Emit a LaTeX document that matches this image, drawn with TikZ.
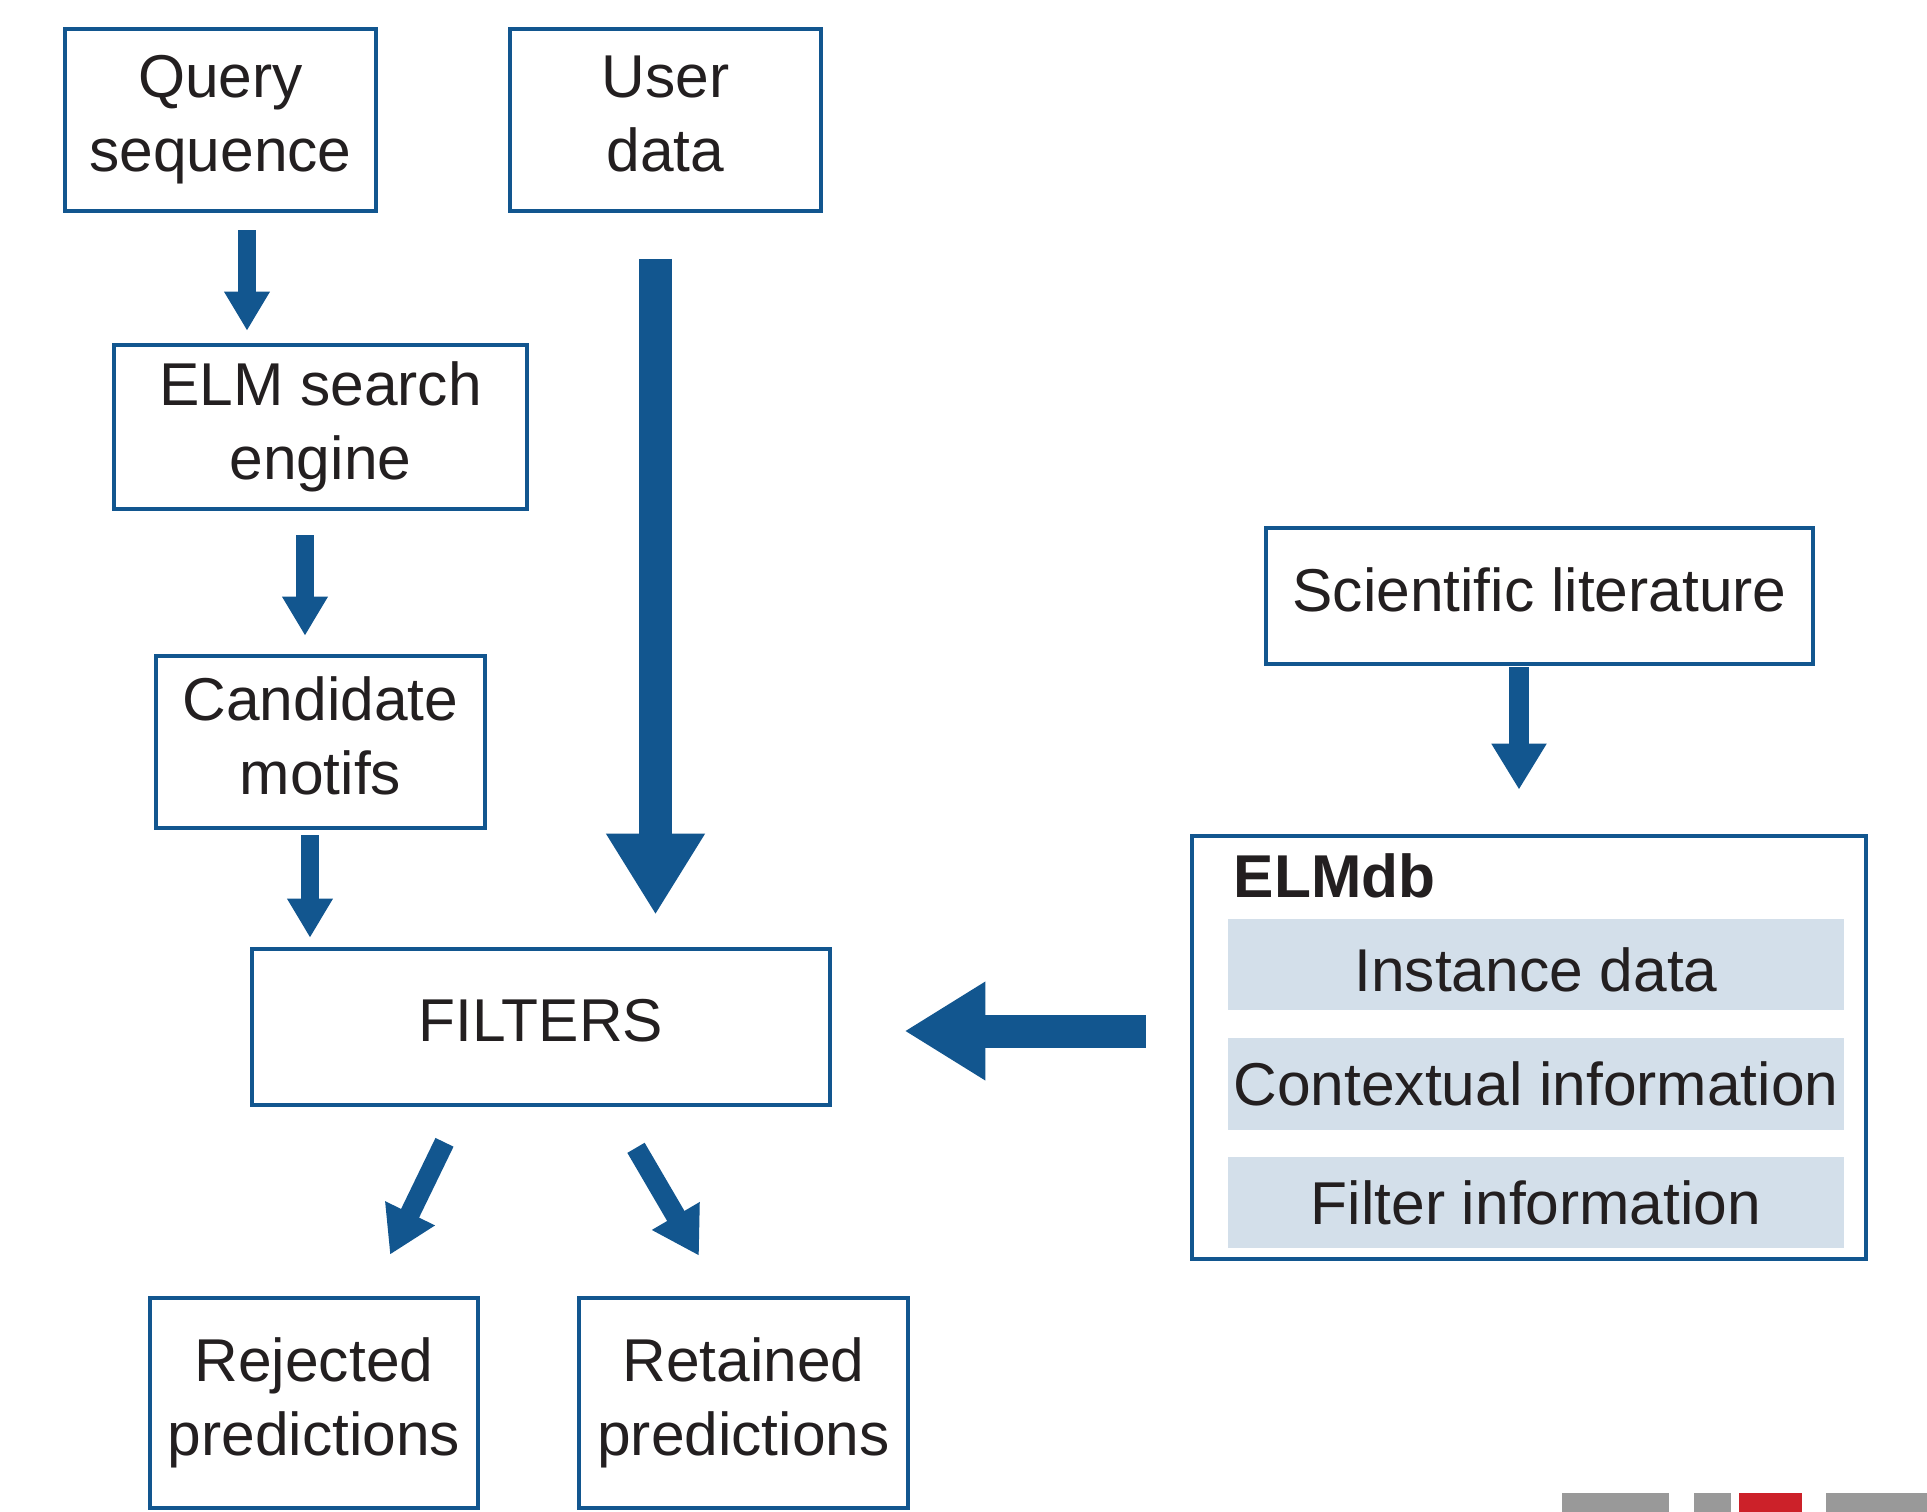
\documentclass[tikz,border=0pt]{standalone}
\usepackage{fontspec}
\setmainfont{Liberation Sans}
\usetikzlibrary{arrows.meta,calc}
\definecolor{elmblue}{RGB}{18,86,143}
\definecolor{barblue}{RGB}{211,223,234}
\definecolor{inktext}{RGB}{35,31,32}
\definecolor{footgray}{RGB}{153,153,153}
\definecolor{footred}{RGB}{204,33,41}
\begin{document}
\begin{tikzpicture}[x=0.01cm, y=-0.01cm, line join=miter,
    font=\fontsize{17.2}{21}\selectfont, text=inktext,
    box/.style 2 args={draw=elmblue, line width=0.045cm, align=center, inner sep=0pt,
        text depth=0.13cm, minimum width=#1, minimum height=#2},
    bar/.style={fill=barblue, inner sep=0pt, minimum width=6.16cm, minimum height=0.91cm},
    flow/.style={draw=elmblue, line width=0.17cm, -{Triangle[width=0.43cm,length=0.39cm]}},
    midflow/.style={draw=elmblue, line width=0.20cm, -{Triangle[width=0.52cm,length=0.46cm]}},
    bigflow/.style={draw=elmblue, line width=0.33cm, -{Triangle[width=0.93cm,length=0.81cm]}}]
    \useasboundingbox (0,0) rectangle (1927,1512);
    % input boxes
    \node[box={3.11cm}{1.82cm}] (query) at (220.5,120) {Query\\sequence};
    \node[box={3.11cm}{1.82cm}] (user) at (665.5,120) {User\\data};
    \node[box={4.13cm}{1.64cm}] (elm) at (320.5,427) {ELM search\\engine};
    \node[box={3.29cm}{1.72cm}] (cand) at (320.5,742) {Candidate\\motifs};
    \node[box={5.78cm}{1.56cm}] (filters) at (541,1027) {FILTERS};
    \node[box={3.28cm}{2.10cm}] (rej) at (314,1403) {Rejected\\predictions};
    \node[box={3.29cm}{2.10cm}] (ret) at (743.5,1403) {Retained\\predictions};
    % database side
    \node[box={5.47cm}{1.36cm}] (lit) at (1539.5,596) {Scientific literature};
    \node[box={6.74cm}{4.23cm}] (db) at (1529,1047.5) {};
    \node[anchor=west, inner sep=0pt, font=\fontsize{17.2}{21}\selectfont\bfseries] (dbname) at (1233,876) {ELMdb};
    \node[bar, text height=0.55cm] (inst) at (1536,964.5) {Instance data};
    \node[bar] (ctx) at (1536,1084) {Contextual information};
    \node[bar] (filt) at (1536,1202.5) {Filter information};
    % arrows
    \draw[flow] ($(query.south)+(26.5,17)$) -- ($(elm.north)+(-73.5,-12)$);
    \draw[flow] ($(elm.south)+(-15.5,24)$) -- ($(cand.north)+(-15.5,-18)$);
    \draw[flow] ($(cand.south)+(-10.5,5)$) -- ($(filters.north)+(-231,-9)$);
    \draw[bigflow] ($(user.south)+(-10,45.5)$) -- ($(filters.north)+(114.5,-32)$);
    \draw[midflow] ($(lit.south)+(-20.5,1)$) -- ($(db.north)+(-10,-44)$);
    \draw[bigflow] ($(db.west)+(-44,-16.5)$) -- ($(filters.east)+(72,4)$);
    \draw[midflow] ($(filters.south)+(-96.5,35)$) -- ($(rej.north)+(76,-41)$);
    \draw[midflow] ($(filters.south)+(95,40.5)$) -- ($(ret.north)+(-44.5,-40)$);
    % page footer strip
    \foreach \a/\b/\c in {1562/1669/footgray,1694/1731/footgray,1739/1802/footred,1826/1927/footgray}
        \fill[\c] (\a,1493) rectangle (\b,1512);
\end{tikzpicture}
\end{document}
